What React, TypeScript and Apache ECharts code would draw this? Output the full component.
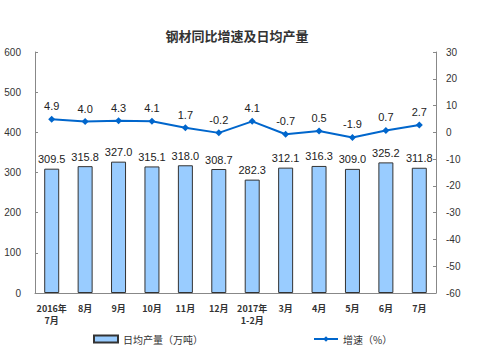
import React, { useEffect, useRef } from "react";
import * as echarts from "echarts";

const categories = ["2016年\n7月", "8月", "9月", "10月", "11月", "12月", "2017年\n1-2月", "3月", "4月", "5月", "6月", "7月"];
const output = [309.5, 315.8, 327.0, 315.1, 318.0, 308.7, 282.3, 312.1, 316.3, 309.0, 325.2, 311.8];
const growth = [4.9, 4.0, 4.3, 4.1, 1.7, -0.2, 4.1, -0.7, 0.5, -1.9, 0.7, 2.7];

const FONT = "'Liberation Sans', Arial, 'Noto Sans CJK SC', sans-serif";

export default function App() {
  const ref = useRef<HTMLDivElement>(null);
  useEffect(() => {
    if (!ref.current) return;
    const chart = echarts.init(ref.current, undefined, { renderer: "svg" });
    chart.setOption({
      animation: false,
      backgroundColor: "#fff",
      textStyle: { fontFamily: FONT },
      title: {
        text: "钢材同比增速及日均产量",
        left: 232,
        textAlign: "center",
        top: 24,
        textStyle: { fontSize: 13, fontWeight: "bold", color: "#333", fontFamily: "'Noto Sans CJK SC', sans-serif" },
      },
      legend: {
        bottom: 9,
        left: 88,
        itemGap: 110,
        itemWidth: 24,
        itemHeight: 7,
        textStyle: { fontSize: 10, color: "#333", fontFamily: "'Noto Sans CJK SC', sans-serif" },
        data: [
          { name: "日均产量（万吨）", icon: "rect" },
          { name: "增速（%）" },
        ],
      },
      grid: { left: 35, right: 44, top: 52, bottom: 65 },
      xAxis: {
        type: "category",
        data: categories,
        axisLine: { lineStyle: { color: "#888" } },
        axisTick: { inside: true, length: 3, lineStyle: { color: "#888" } },
        axisLabel: { fontSize: 9, color: "#333", fontWeight: "bold", lineHeight: 12, margin: 9, interval: 0, fontFamily: "'Noto Sans CJK SC', sans-serif" },
      },
      yAxis: [
        {
          type: "value",
          min: 0,
          max: 600,
          interval: 100,
          splitLine: { show: false },
          axisLine: { show: true, lineStyle: { color: "#888" } },
          axisTick: { show: true, inside: true, length: 3, lineStyle: { color: "#888" } },
          axisLabel: { fontSize: 10, color: "#333", margin: 14 },
        },
        {
          type: "value",
          min: -60,
          max: 30,
          interval: 10,
          splitLine: { show: false },
          axisLine: { show: true, lineStyle: { color: "#888" } },
          axisTick: { show: true, inside: true, length: 3, lineStyle: { color: "#888" } },
          axisLabel: { fontSize: 10, color: "#333", margin: 10 },
        },
      ],
      series: [
        {
          name: "日均产量（万吨）",
          type: "bar",
          data: output,
          barWidth: 15,
          itemStyle: { color: "#99CCFF", borderColor: "#333", borderWidth: 1 },
          label: { show: true, position: "top", fontSize: 11, color: "#222", distance: 4, formatter: (p: any) => Number(p.value).toFixed(1) },
        },
        {
          name: "增速（%）",
          type: "line",
          yAxisIndex: 1,
          data: growth,
          symbol: "diamond",
          symbolSize: 7,
          lineStyle: { color: "#0066CC", width: 2 },
          itemStyle: { color: "#0066CC" },
          label: { show: true, position: "top", fontSize: 11, color: "#222", distance: 4, formatter: (p: any) => Number(p.value).toFixed(1) },
        },
      ],
    });
    return () => chart.dispose();
  }, []);
  return <div ref={ref} style={{ position: "fixed", left: 0, top: 0, width: 480, height: 358 }} />;
}
